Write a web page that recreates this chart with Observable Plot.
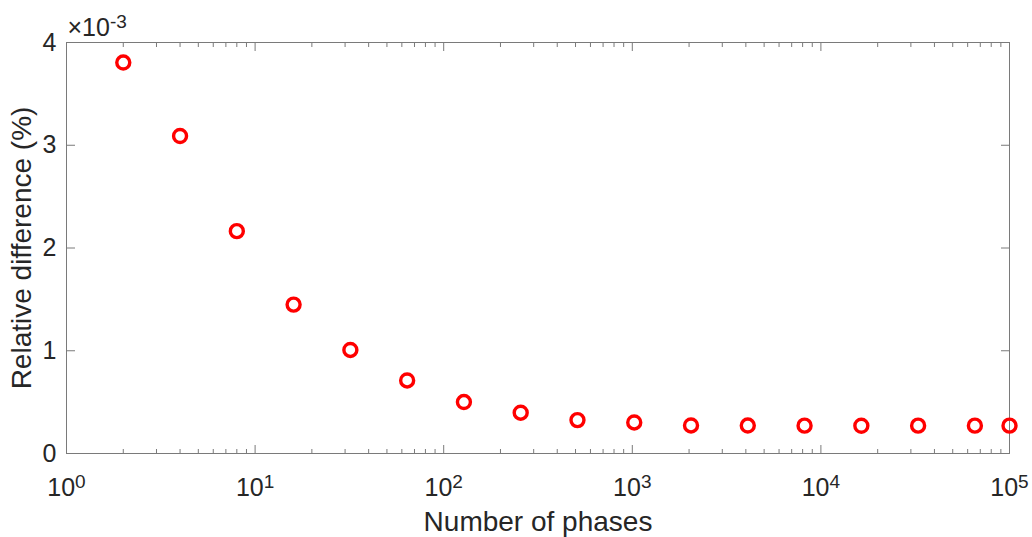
<!DOCTYPE html>
<html><head><meta charset="utf-8">
<script src="https://cdn.jsdelivr.net/npm/d3@7"></script>
<script src="https://cdn.jsdelivr.net/npm/@observablehq/plot@0.6"></script>
<style>body{margin:0;background:#fff;}</style>
</head><body><div id="chart"></div>
<script>
// Data (relative difference in units of 1e-3 %)
const phases = [2, 4, 8, 16, 32, 64, 128, 256, 512, 1024, 2048, 4096, 8192, 16384, 32768, 65536, 100000];
const relDiff = [3.805, 3.090, 2.164, 1.449, 1.008, 0.711, 0.501, 0.397, 0.325, 0.302, 0.273, 0.272, 0.271, 0.270, 0.271, 0.271, 0.271];
const xMajorTicks = [1, 10, 100, 1000, 10000, 100000];
const xTickLabels = ["10^0", "10^1", "10^2", "10^3", "10^4", "10^5"];
const yTicks = [0, 1, 2, 3, 4];
const yTickLabels = ["0", "1", "2", "3", "4"];
const yExponentLabel = "×10^-3";
const xLabel = "Number of phases";
const yLabel = "Relative difference (%)";

const xMinorTicks = [];
for (let k = 0; k < 5; k++) for (let m = 2; m <= 9; m++) xMinorTicks.push(m * Math.pow(10, k));

const data = phases.map((p, i) => ({p, v: relDiff[i]}));
const axisColor = "#7a7a7a";
const textColor = "#262626";
const tickFont = 25, supFont = 19, labelFont = 28;

const svg = Plot.plot({
  width: 1032,
  height: 537,
  marginLeft: 66,
  marginRight: 23,
  marginTop: 42,
  marginBottom: 84,
  style: {fontFamily: "'Liberation Sans', Arial, sans-serif", fontSize: tickFont + "px", color: textColor, background: "#fff", overflow: "visible"},
  x: {type: "log", domain: [1, 100000], axis: null},
  y: {domain: [0, 4], axis: null},
  marks: [
    Plot.frame({stroke: axisColor, strokeWidth: 1}),
    // ticks pointing inward
    Plot.axisX(xMajorTicks, {anchor: "bottom", tickSize: -8, tickFormat: () => "", stroke: axisColor, label: null}),
    Plot.axisX(xMajorTicks, {anchor: "top", tickSize: -8, tickFormat: () => "", stroke: axisColor, label: null}),
    Plot.axisX(xMinorTicks, {anchor: "bottom", tickSize: -4, tickFormat: () => "", stroke: axisColor, label: null}),
    Plot.axisX(xMinorTicks, {anchor: "top", tickSize: -4, tickFormat: () => "", stroke: axisColor, label: null}),
    Plot.axisY(yTicks, {anchor: "left", tickSize: -9, tickFormat: () => "", stroke: axisColor, label: null}),
    Plot.axisY(yTicks, {anchor: "right", tickSize: -9, tickFormat: () => "", stroke: axisColor, label: null}),
    // tick labels
    Plot.text(xMajorTicks, {x: d => d, frameAnchor: "bottom", lineAnchor: "middle", textAnchor: "middle", dy: 34, text: (d, i) => xTickLabels[i], fontSize: tickFont, fill: textColor}),
    Plot.text(yTicks, {y: d => d, frameAnchor: "left", lineAnchor: "middle", dx: -10, textAnchor: "end", text: (d, i) => yTickLabels[i], fontSize: tickFont, fill: textColor}),
    Plot.text([yExponentLabel], {frameAnchor: "top-left", lineAnchor: "middle", dx: 1, dy: -15, textAnchor: "start", fontSize: tickFont, fill: textColor}),
    // axis labels
    Plot.text([xLabel], {frameAnchor: "bottom", lineAnchor: "middle", textAnchor: "middle", dy: 69, fontSize: labelFont, fill: textColor}),
    Plot.text([yLabel], {frameAnchor: "left", lineAnchor: "middle", textAnchor: "middle", dx: -44, rotate: -90, fontSize: labelFont, fill: textColor}),
    // data
    Plot.dot(data, {x: "p", y: "v", r: 6.5, stroke: "#ff0000", strokeWidth: 3.4, fill: "none"})
  ]
});

// superscripts (10^k, ×10^-3)
d3.select(svg).selectAll("text").each(function() {
  if (!this.textContent.includes("^")) return;
  const t = d3.select(this);
  const [b, e] = this.textContent.split("^");
  t.text(null);
  t.append("tspan").text(b);
  t.append("tspan").attr("font-size", supFont).attr("dy", "-0.42em").text(e);
});

document.getElementById("chart").appendChild(svg);
</script>
</body></html>
